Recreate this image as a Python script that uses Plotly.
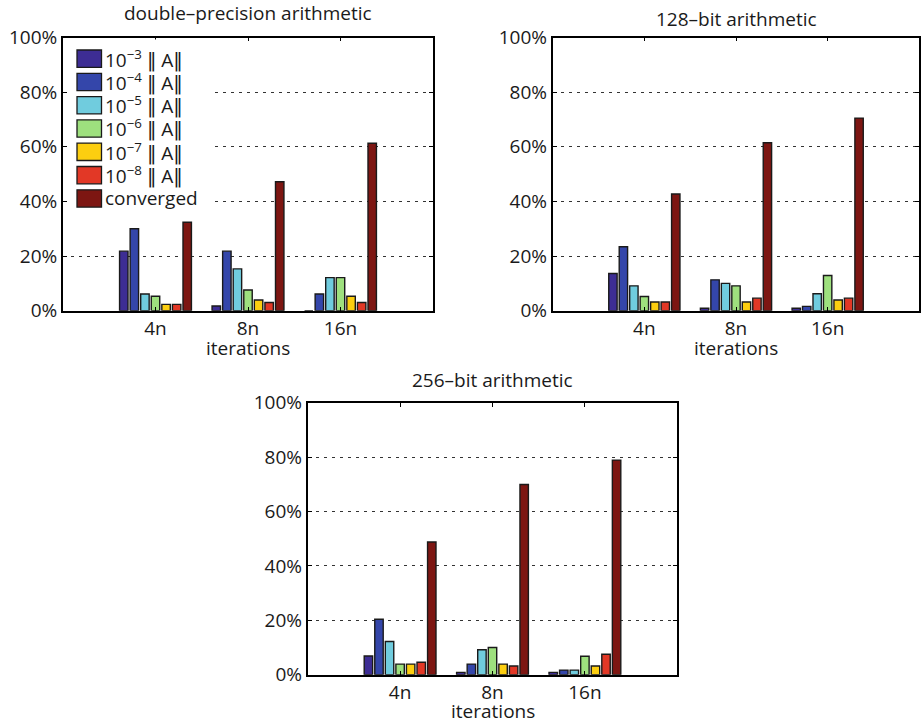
import plotly.graph_objects as go

# Iteration budgets (x categories) and tolerance classes (bar series)
groups = ["4n", "8n", "16n"]
NORM = "<span style='font-family:DejaVu Sans'>‖</span>"
series_labels = [
    f"10<sup>−3</sup> {NORM} A{NORM}",
    f"10<sup>−4</sup> {NORM} A{NORM}",
    f"10<sup>−5</sup> {NORM} A{NORM}",
    f"10<sup>−6</sup> {NORM} A{NORM}",
    f"10<sup>−7</sup> {NORM} A{NORM}",
    f"10<sup>−8</sup> {NORM} A{NORM}",
    "converged",
]
series_colors = ["#3D2D94", "#3446AA", "#70CCDE", "#9EE07E", "#FCCE10", "#E23826", "#7D1612"]

# Percentage of runs per tolerance class, one list per iteration budget
double_4n = [21.8, 30.0, 6.1, 5.3, 2.3, 2.3, 32.4]
double_8n = [1.7, 21.8, 15.3, 7.6, 3.9, 3.0, 47.2]
double_16n = [0.0, 6.1, 12.1, 12.1, 5.3, 3.0, 61.3]

bit128_4n = [13.6, 23.4, 9.1, 5.2, 3.2, 3.2, 42.7]
bit128_8n = [0.9, 11.3, 10.0, 9.1, 3.2, 4.6, 61.5]
bit128_16n = [0.9, 1.6, 6.2, 12.9, 3.9, 4.6, 70.5]

bit256_4n = [6.9, 20.4, 12.2, 3.9, 3.9, 4.6, 48.8]
bit256_8n = [0.85, 3.9, 9.2, 10.0, 3.9, 3.2, 69.9]
bit256_16n = [0.85, 1.7, 1.7, 6.8, 3.2, 7.5, 78.9]

y_ticks = [0, 20, 40, 60, 80, 100]
y_ticktext = ["0%", "20%", "40%", "60%", "80%", "100%"]

W, H = 924, 723
FONT = "Open Sans"
TXT = "#1a1a1a"
FS = 19


def px(x):
    return x / W


def py(y):
    return 1 - y / H


# title, data, axes, x extent (px), y extent (px), title middle y, x-label middle y
panels = [
    ("double–precision arithmetic", [double_4n, double_8n, double_16n], "x", "y",
     (63, 433), (37.5, 310.7), 12.8, 347.5),
    ("128–bit arithmetic", [bit128_4n, bit128_8n, bit128_16n], "x2", "y2",
     (552.7, 919.3), (37.5, 310.7), 18.5, 347.5),
    ("256–bit arithmetic", [bit256_4n, bit256_8n, bit256_16n], "x3", "y3",
     (307.7, 677.3), (402.7, 674.7), 379.5, 710.8),
]

fig = go.Figure()
annotations = []
shapes = []

for p, (title, data, xa, ya, (xl, xr), (yt, yb), title_y, xlab_y) in enumerate(panels):
    for i, label in enumerate(series_labels):
        fig.add_trace(go.Bar(
            x=[1, 2, 3],
            y=[data[g][i] for g in range(len(groups))],
            name=label,
            xaxis=xa, yaxis=ya,
            marker=dict(color=series_colors[i], line=dict(color="#1a1a1a", width=1.4)),
            showlegend=False,
        ))
    sfx = "" if p == 0 else str(p + 1)
    axis_common = dict(
        showline=True, linecolor="black", linewidth=1.8, mirror="allticks",
        ticks="inside", ticklen=4, tickwidth=1, tickcolor="black",
        tickfont=dict(family=FONT, size=FS, color=TXT),
        zeroline=False, automargin=False,
    )
    fig.update_layout(**{
        "xaxis" + sfx: dict(
            domain=[px(xl), px(xr)], anchor=ya, range=[0, 4],
            tickvals=[1, 2, 3], ticktext=groups, showgrid=False,
            **axis_common,
        ),
        "yaxis" + sfx: dict(
            domain=[py(yb), py(yt)], anchor=xa, range=[0, 100],
            tickvals=y_ticks, ticktext=y_ticktext, showgrid=True,
            gridcolor="#333333", griddash="3px,5px", gridwidth=1,
            **axis_common,
        ),
    })
    annotations.append(dict(
        text=title, x=px((xl + xr) / 2), y=py(title_y), xref="paper", yref="paper",
        xanchor="center", yanchor="middle", showarrow=False,
        font=dict(family=FONT, size=FS, color=TXT),
    ))
    annotations.append(dict(
        text="iterations", x=px((xl + xr) / 2), y=py(xlab_y), xref="paper", yref="paper",
        xanchor="center", yanchor="middle", showarrow=False,
        font=dict(family=FONT, size=FS, color=TXT),
    ))

# Legend drawn inside the first panel
shapes.append(dict(type="rect", xref="paper", yref="paper",
                   x0=px(68), x1=px(213), y0=py(212), y1=py(39.5),
                   fillcolor="white", line=dict(width=0), layer="above"))
for i, label in enumerate(series_labels):
    top = 50 + i * 23.3
    shapes.append(dict(type="rect", xref="paper", yref="paper",
                       x0=px(77), x1=px(101.5), y0=py(top + 17.3), y1=py(top),
                       fillcolor=series_colors[i], line=dict(color="#1a1a1a", width=1.3),
                       layer="above"))
    annotations.append(dict(
        text=label, x=px(103), y=py(top + 8.5), xref="paper", yref="paper",
        xanchor="left", yanchor="middle", showarrow=False,
        font=dict(family=FONT, size=FS, color=TXT),
    ))

fig.update_layout(
    width=W, height=H,
    margin=dict(l=0, r=0, t=0, b=0),
    paper_bgcolor="white", plot_bgcolor="white",
    barmode="group", bargap=0.2, bargroupgap=0.2,
    annotations=annotations, shapes=shapes,
    font=dict(family=FONT, color=TXT),
)

fig.write_html("out.html")
